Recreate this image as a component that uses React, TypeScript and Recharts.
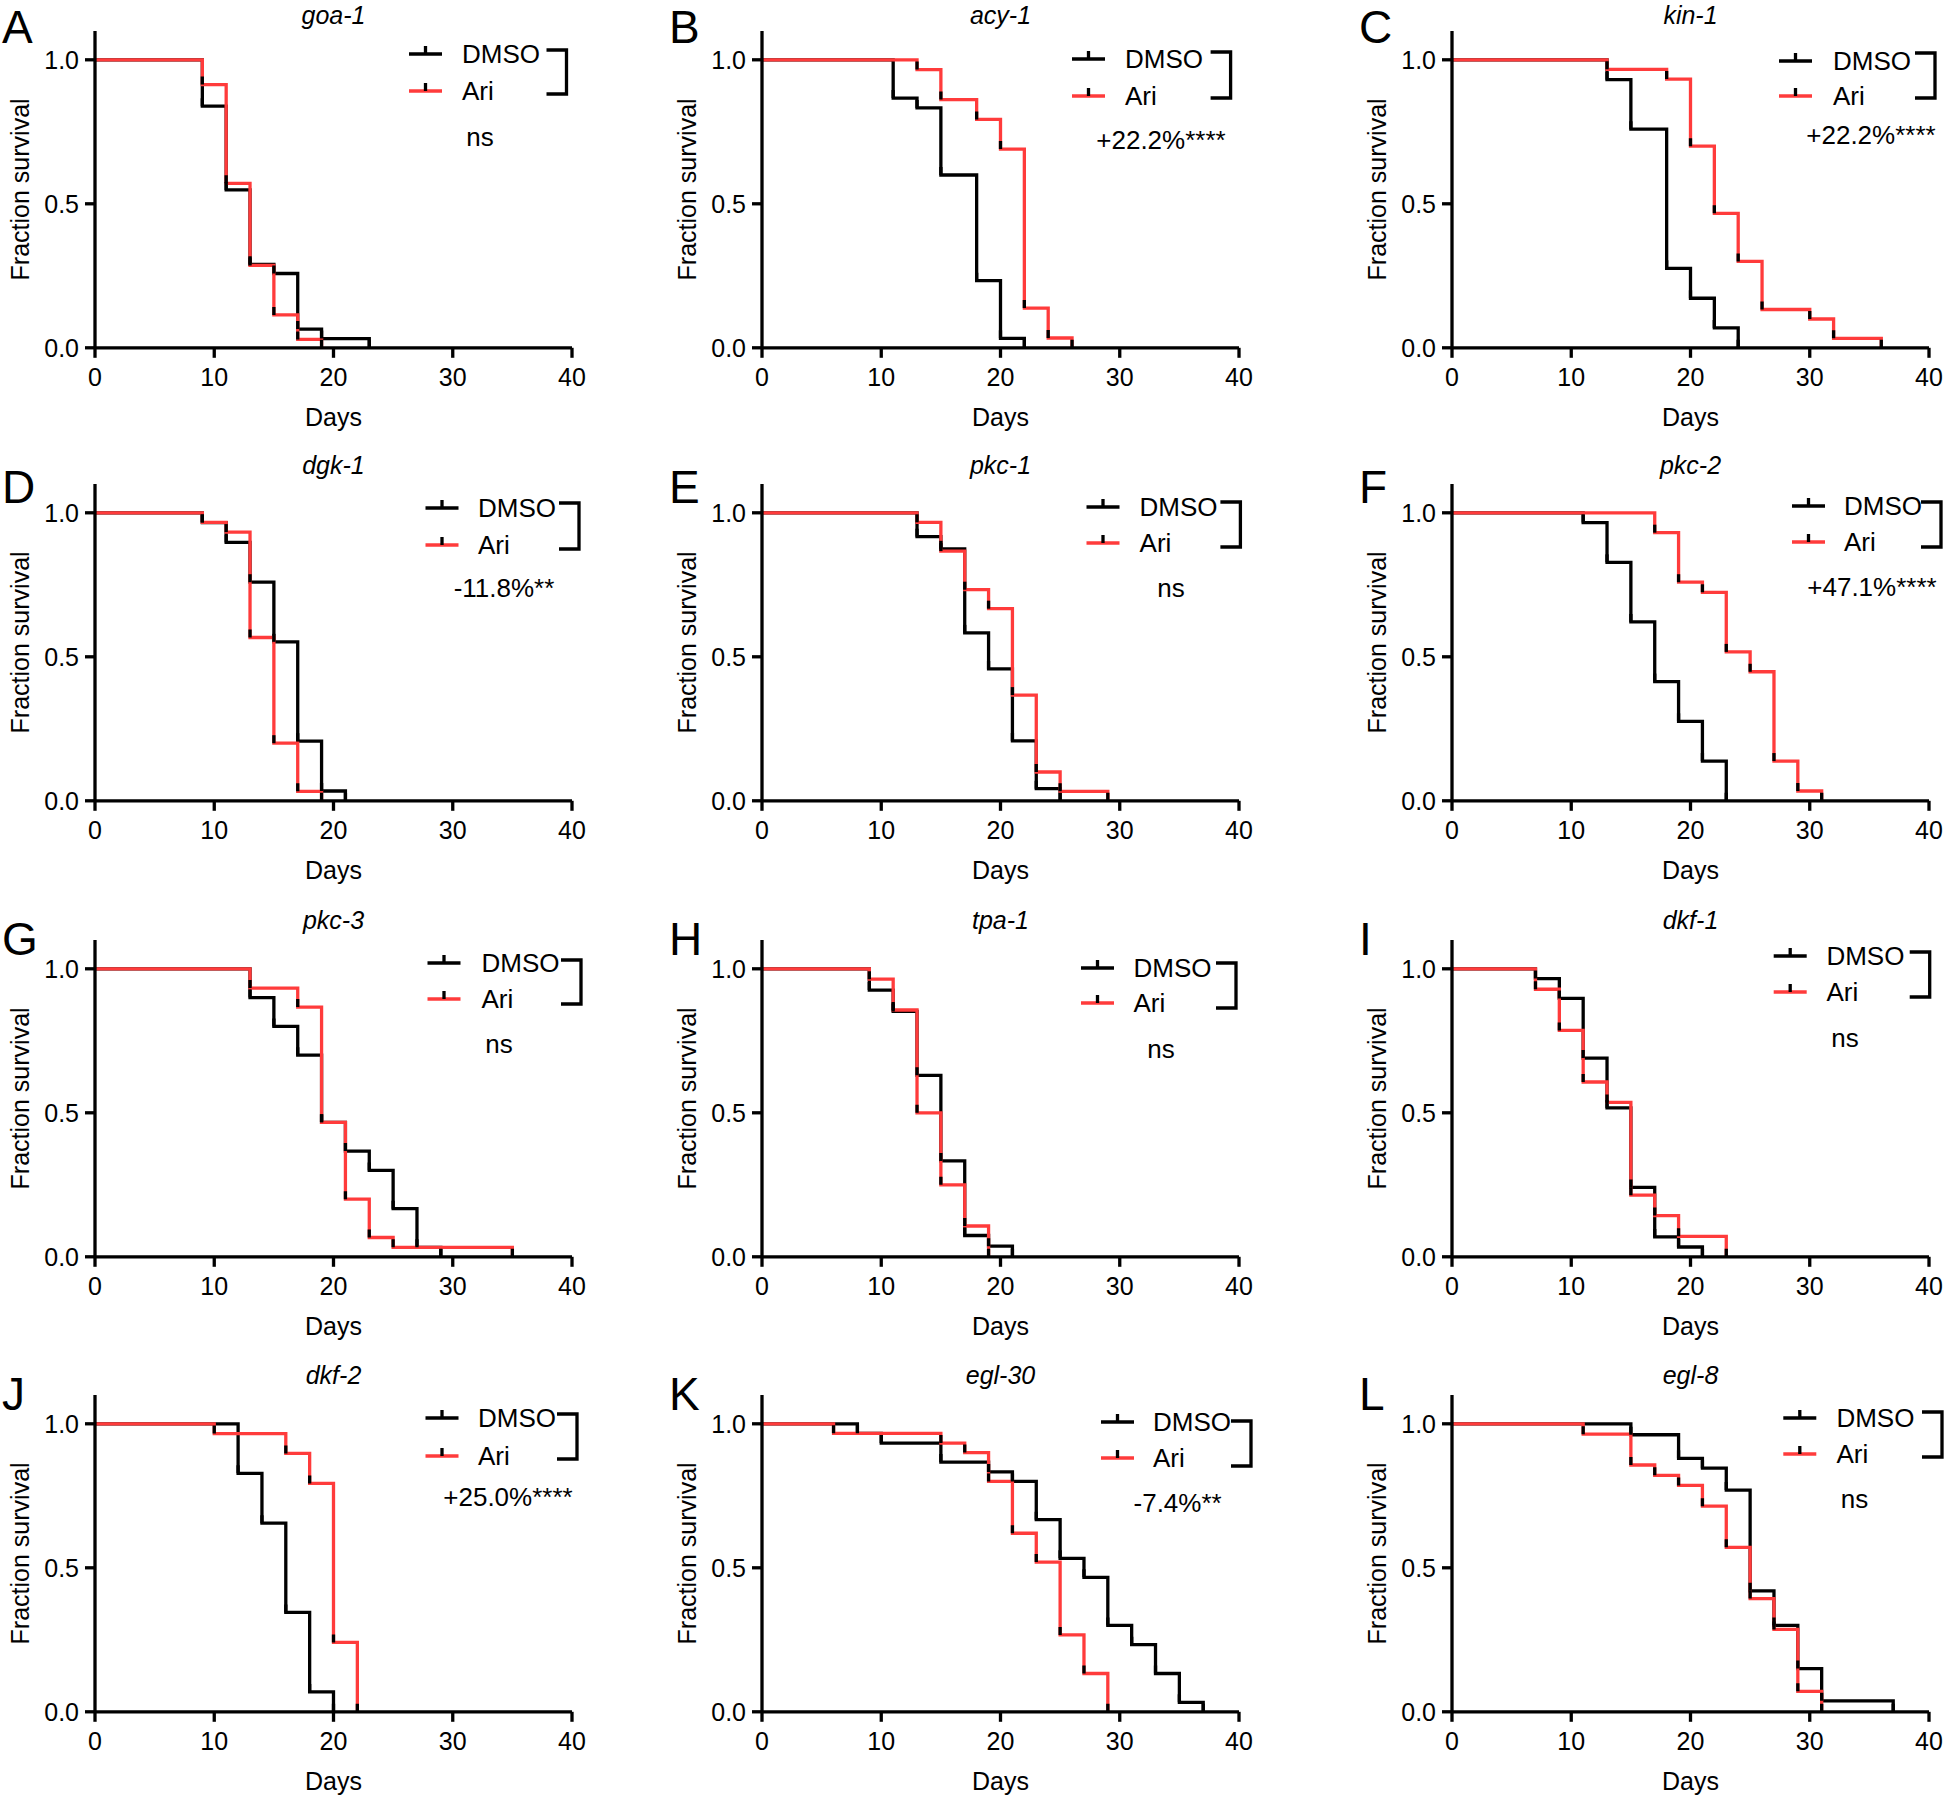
import React from 'react';
import { LineChart, Line, XAxis, YAxis } from 'recharts';

type Pt = [number, number];

// survival curves: [day, fraction surviving]
const goa1Dmso: Pt[] = [[0, 1], [9, 0.839], [11, 0.548], [13, 0.29], [15, 0.258], [17, 0.065], [19, 0.032], [23, 0]];
const goa1Ari: Pt[] = [[0, 1], [9, 0.914], [11, 0.571], [13, 0.286], [15, 0.114], [17, 0.029], [19, 0]];
const acy1Dmso: Pt[] = [[0, 1], [11, 0.867], [13, 0.833], [15, 0.6], [18, 0.233], [20, 0.033], [22, 0]];
const acy1Ari: Pt[] = [[0, 1], [13, 0.966], [15, 0.862], [18, 0.793], [20, 0.69], [22, 0.138], [24, 0.034], [26, 0]];
const kin1Dmso: Pt[] = [[0, 1], [13, 0.931], [15, 0.759], [18, 0.276], [20, 0.172], [22, 0.069], [24, 0]];
const kin1Ari: Pt[] = [[0, 1], [13, 0.967], [18, 0.933], [20, 0.7], [22, 0.467], [24, 0.3], [26, 0.133], [30, 0.1], [32, 0.033], [36, 0]];
const dgk1Dmso: Pt[] = [[0, 1], [9, 0.966], [11, 0.897], [13, 0.759], [15, 0.552], [17, 0.207], [19, 0.034], [21, 0]];
const dgk1Ari: Pt[] = [[0, 1], [9, 0.967], [11, 0.933], [13, 0.567], [15, 0.2], [17, 0.033], [19, 0]];
const pkc1Dmso: Pt[] = [[0, 1], [13, 0.917], [15, 0.875], [17, 0.583], [19, 0.458], [21, 0.208], [23, 0.042], [25, 0]];
const pkc1Ari: Pt[] = [[0, 1], [13, 0.967], [15, 0.867], [17, 0.733], [19, 0.667], [21, 0.367], [23, 0.1], [25, 0.033], [29, 0]];
const pkc2Dmso: Pt[] = [[0, 1], [11, 0.966], [13, 0.828], [15, 0.621], [17, 0.414], [19, 0.276], [21, 0.138], [23, 0]];
const pkc2Ari: Pt[] = [[0, 1], [17, 0.931], [19, 0.759], [21, 0.724], [23, 0.517], [25, 0.448], [27, 0.138], [29, 0.034], [31, 0]];
const pkc3Dmso: Pt[] = [[0, 1], [13, 0.9], [15, 0.8], [17, 0.7], [19, 0.467], [21, 0.367], [23, 0.3], [25, 0.167], [27, 0.033], [29, 0]];
const pkc3Ari: Pt[] = [[0, 1], [13, 0.933], [17, 0.867], [19, 0.467], [21, 0.2], [23, 0.067], [25, 0.033], [35, 0]];
const tpa1Dmso: Pt[] = [[0, 1], [9, 0.926], [11, 0.852], [13, 0.63], [15, 0.333], [17, 0.074], [19, 0.037], [21, 0]];
const tpa1Ari: Pt[] = [[0, 1], [9, 0.964], [11, 0.857], [13, 0.5], [15, 0.25], [17, 0.107], [19, 0]];
const dkf1Dmso: Pt[] = [[0, 1], [7, 0.966], [9, 0.897], [11, 0.69], [13, 0.517], [15, 0.241], [17, 0.069], [19, 0.034], [21, 0]];
const dkf1Ari: Pt[] = [[0, 1], [7, 0.929], [9, 0.786], [11, 0.607], [13, 0.536], [15, 0.214], [17, 0.143], [19, 0.071], [23, 0]];
const dkf2Dmso: Pt[] = [[0, 1], [12, 0.828], [14, 0.655], [16, 0.345], [18, 0.069], [20, 0]];
const dkf2Ari: Pt[] = [[0, 1], [10, 0.966], [16, 0.897], [18, 0.793], [20, 0.241], [22, 0]];
const egl30Dmso: Pt[] = [[0, 1], [8, 0.967], [10, 0.933], [15, 0.867], [19, 0.833], [21, 0.8], [23, 0.667], [25, 0.533], [27, 0.467], [29, 0.3], [31, 0.233], [33, 0.133], [35, 0.033], [37, 0]];
const egl30Ari: Pt[] = [[0, 1], [6, 0.967], [15, 0.933], [17, 0.9], [19, 0.8], [21, 0.62], [23, 0.52], [25, 0.267], [27, 0.133], [29, 0]];
const egl8Dmso: Pt[] = [[0, 1], [15, 0.962], [19, 0.88], [21, 0.846], [23, 0.77], [25, 0.42], [27, 0.3], [29, 0.15], [31, 0.038], [37, 0]];
const egl8Ari: Pt[] = [[0, 1], [11, 0.964], [15, 0.857], [17, 0.821], [19, 0.786], [21, 0.714], [23, 0.571], [25, 0.393], [27, 0.286], [29, 0.071], [31, 0]];

const letters = ['A', 'B', 'C', 'D', 'E', 'F', 'G', 'H', 'I', 'J', 'K', 'L'];
const genes = ['goa-1', 'acy-1', 'kin-1', 'dgk-1', 'pkc-1', 'pkc-2', 'pkc-3', 'tpa-1', 'dkf-1', 'dkf-2', 'egl-30', 'egl-8'];
const stats = ['ns', '+22.2%****', '+22.2%****', '-11.8%**', 'ns', '+47.1%****', 'ns', 'ns', 'ns', '+25.0%****', '-7.4%**', 'ns'];
const dayTicks = [0, 10, 20, 30, 40];
const survTicks = [0, 0.5, 1];

const series: [Pt[], Pt[]][] = [
  [goa1Dmso, goa1Ari], [acy1Dmso, acy1Ari], [kin1Dmso, kin1Ari],
  [dgk1Dmso, dgk1Ari], [pkc1Dmso, pkc1Ari], [pkc2Dmso, pkc2Ari],
  [pkc3Dmso, pkc3Ari], [tpa1Dmso, tpa1Ari], [dkf1Dmso, dkf1Ari],
  [dkf2Dmso, dkf2Ari], [egl30Dmso, egl30Ari], [egl8Dmso, egl8Ari],
];

// layout (pixels)
const colLeft = [94.5, 762, 1451.7];
const PLOT_W = 477;
const rowTop = [31.2, 483.9, 939.5, 1394.5];
const titleY = [-16, -19, -20, -20];
const letterY = [12, 19, 15, 15];
const PLOT_H = 316.8;
const AXIS_W = 95;
const TOP_M = 40;
const RIGHT_M = 20;
const XAXIS_H = 100;
const SW = 3.3;

// legend / bracket / stat positions relative to plot left & top
const legendPos = [
  { lx: 314, tx: 367, dy: 23, ay: 60, bx: 471.5, bt: 19, bb: 63, sx: 385, sy: 106 },
  { lx: 310, tx: 363, dy: 28, ay: 65, bx: 468.6, bt: 21, bb: 67, sx: 399, sy: 109 },
  { lx: 327, tx: 381, dy: 30, ay: 65, bx: 483, bt: 22, bb: 67, sx: 419, sy: 104 },
  { lx: 330.5, tx: 383, dy: 24, ay: 61, bx: 484, bt: 19, bb: 65, sx: 409, sy: 104 },
  { lx: 324.5, tx: 377.6, dy: 23, ay: 59, bx: 478.4, bt: 18, bb: 63, sx: 409, sy: 104 },
  { lx: 340, tx: 392, dy: 22, ay: 58, bx: 489, bt: 18, bb: 63, sx: 420, sy: 103 },
  { lx: 332.5, tx: 386.5, dy: 23, ay: 59, bx: 486, bt: 20, bb: 64, sx: 404, sy: 104 },
  { lx: 319, tx: 371.5, dy: 28, ay: 63, bx: 474, bt: 23, bb: 68, sx: 399, sy: 109 },
  { lx: 321.7, tx: 374.4, dy: 16, ay: 52, bx: 477.7, bt: 12, bb: 57, sx: 393, sy: 98 },
  { lx: 330.5, tx: 383, dy: 23, ay: 61, bx: 482, bt: 19, bb: 64, sx: 413, sy: 102 },
  { lx: 339, tx: 391, dy: 27, ay: 63, bx: 489, bt: 26, bb: 71, sx: 415.6, sy: 108 },
  { lx: 331.3, tx: 384.4, dy: 23, ay: 59, bx: 490, bt: 17, bb: 62, sx: 402.5, sy: 104 },
];

const FONT = "'Liberation Sans', Arial, Helvetica, sans-serif";
const RED = '#ff3b3b';

function T({ x, y, size = 26, anchor = 'start', italic = false, dy, children }: any) {
  return (
    <text x={x} y={y} textAnchor={anchor} fontSize={size} fontFamily={FONT}
      fontStyle={italic ? 'italic' : 'normal'} dy={dy} fill="#000">
      {children}
    </text>
  );
}

const XTick = (p: any) => (
  <T x={p.x} y={p.y} size={25} anchor="middle" dy="0.71em">{p.payload.value}</T>
);
const YTick = (p: any) => (
  <T x={p.x} y={p.y} size={25} anchor="end" dy="0.35em">{Number(p.payload.value).toFixed(1)}</T>
);

const tickDot = (p: any) => {
  if (p.index === 0) return <g key={`t${p.index}`} />;
  return <line key={`t${p.index}`} x1={p.cx} x2={p.cx} y1={p.cy} y2={p.cy - 8} stroke="#000" strokeWidth={SW} />;
};

const toRows = (arr: Pt[]) => arr.map(([day, s]) => ({ day, s }));

function Panel({ i }: { i: number }) {
  const col = i % 3;
  const row = Math.floor(i / 3);
  const W = AXIS_W + PLOT_W + RIGHT_M;
  const H = TOP_M + PLOT_H + XAXIS_H;
  const [dmso, ari] = series[i];
  const g = legendPos[i];
  const L = AXIS_W;
  const Y = TOP_M;
  return (
    <div style={{ position: 'absolute', left: colLeft[col] - AXIS_W, top: rowTop[row] - TOP_M, width: W, height: H }}>
      <LineChart width={W} height={H} margin={{ top: TOP_M, right: RIGHT_M, bottom: 0, left: 0 }}>
        <XAxis
          type="number"
          dataKey="day"
          domain={[0, 40]}
          ticks={dayTicks}
          interval={0}
          allowDataOverflow
          height={XAXIS_H}
          axisLine={{ stroke: '#000', strokeWidth: SW }}
          tickLine={{ stroke: '#000', strokeWidth: SW }}
          tickSize={10}
          tickMargin={10}
          tick={XTick}
        />
        <YAxis
          type="number"
          domain={[0, 1.1]}
          ticks={survTicks}
          interval={0}
          allowDataOverflow
          width={AXIS_W}
          axisLine={{ stroke: '#000', strokeWidth: SW }}
          tickLine={{ stroke: '#000', strokeWidth: SW }}
          tickSize={10}
          tickMargin={6}
          tick={YTick}
        />
        <Line data={toRows(dmso)} dataKey="s" type="stepAfter" stroke="#000" strokeWidth={SW}
          dot={tickDot} activeDot={false} isAnimationActive={false} />
        <Line data={toRows(ari)} dataKey="s" type="stepAfter" stroke={RED} strokeWidth={SW}
          dot={tickDot} activeDot={false} isAnimationActive={false} />
      </LineChart>
      <svg width={W + 120} height={H} style={{ position: 'absolute', left: 0, top: 0, overflow: 'visible', pointerEvents: 'none' }}>
        <T x={L - 93} y={Y + letterY[row]} size={46}>{letters[i]}</T>
        <T x={L + PLOT_W / 2} y={Y + titleY[row]} anchor="middle" dy="0.35em" size={25} italic>{genes[i]}</T>
        <T x={L + PLOT_W / 2} y={Y + PLOT_H + 69} anchor="middle" dy="0.35em" size={25}>Days</T>
        <text
          transform={`translate(${L - 75},${Y + PLOT_H / 2}) rotate(-90)`}
          textAnchor="middle" dy="0.35em" fontSize={25} fontFamily={FONT} fill="#000"
        >
          Fraction survival
        </text>
        <line x1={L + g.lx} x2={L + g.lx + 33} y1={Y + g.dy} y2={Y + g.dy} stroke="#000" strokeWidth={SW} />
        <line x1={L + g.lx + 16.5} x2={L + g.lx + 16.5} y1={Y + g.dy} y2={Y + g.dy - 8} stroke="#000" strokeWidth={SW} />
        <T x={L + g.tx} y={Y + g.dy} dy="0.35em">DMSO</T>
        <line x1={L + g.lx} x2={L + g.lx + 33} y1={Y + g.ay} y2={Y + g.ay} stroke={RED} strokeWidth={SW} />
        <line x1={L + g.lx + 16.5} x2={L + g.lx + 16.5} y1={Y + g.ay} y2={Y + g.ay - 8} stroke="#000" strokeWidth={SW} />
        <T x={L + g.tx} y={Y + g.ay} dy="0.35em">Ari</T>
        <polyline
          points={`${L + g.bx - 20},${Y + g.bt} ${L + g.bx},${Y + g.bt} ${L + g.bx},${Y + g.bb} ${L + g.bx - 20},${Y + g.bb}`}
          fill="none" stroke="#000" strokeWidth={SW}
        />
        <T x={L + g.sx} y={Y + g.sy} anchor="middle" dy="0.35em">{stats[i]}</T>
      </svg>
    </div>
  );
}

export default function App() {
  return (
    <div style={{ position: 'absolute', left: 0, top: 0, width: 1944, height: 1796, background: '#fff', overflow: 'hidden' }}>
      {letters.map((_, i) => <Panel key={i} i={i} />)}
    </div>
  );
}
